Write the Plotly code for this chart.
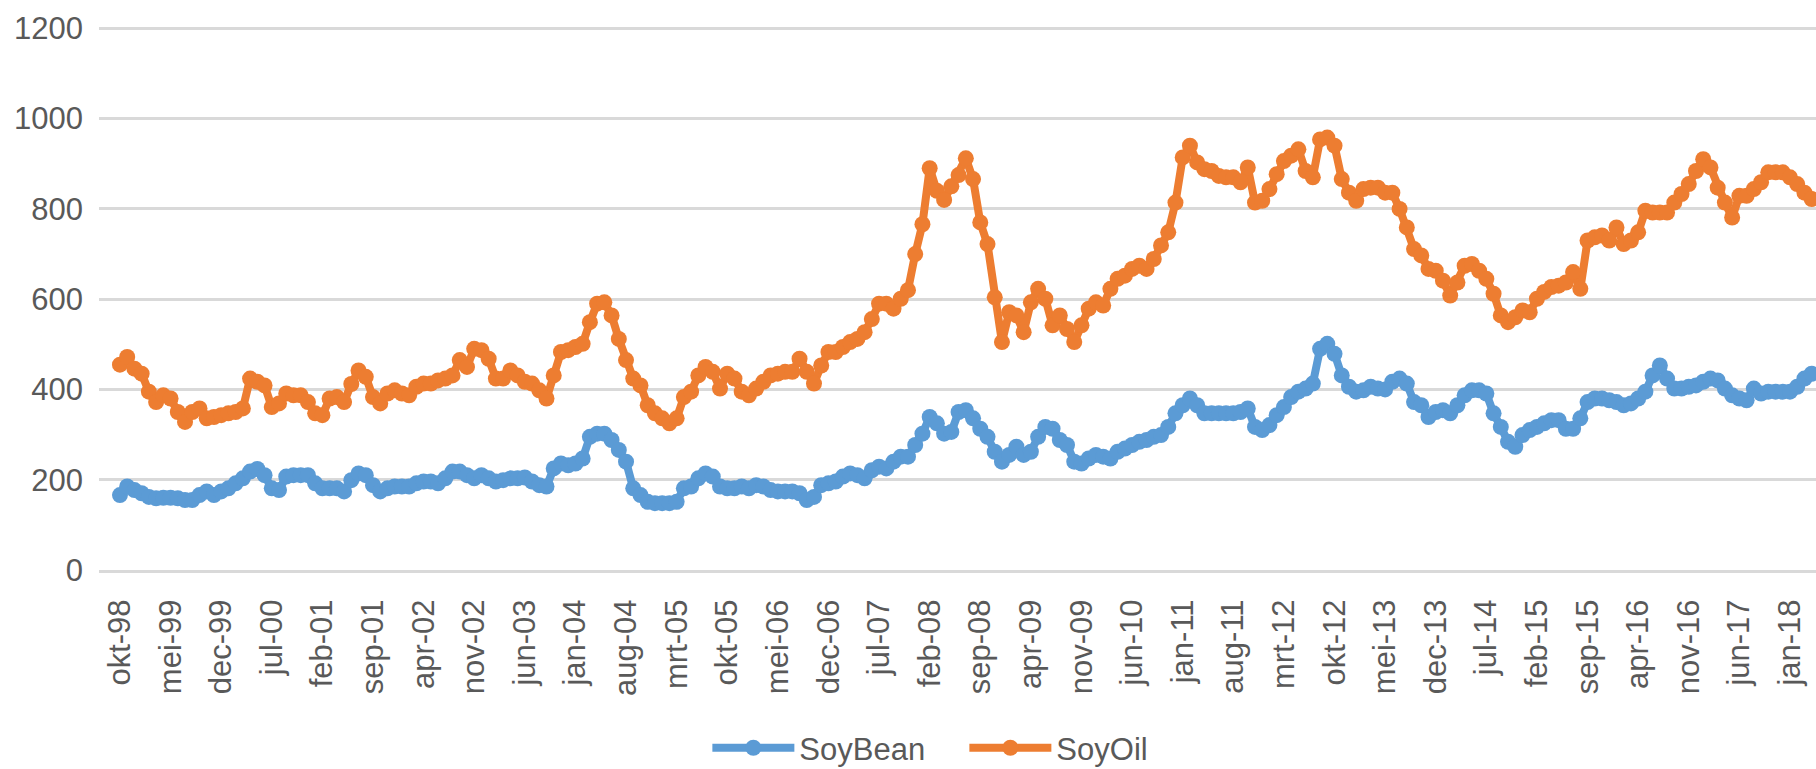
import plotly.graph_objects as go

# Month abbreviations (Dutch) used for the category labels
month_abbr = ["jan", "feb", "mrt", "apr", "mei", "jun", "jul", "aug", "sep", "okt", "nov", "dec"]
start_month_index = 9   # okt
start_year = 1998
n_months = 235          # okt-98 .. apr-18

categories = []
for i in range(n_months):
    mi = (start_month_index + i) % 12
    yr = start_year + (start_month_index + i) // 12
    categories.append(f"{month_abbr[mi]}-{yr % 100:02d}")

soybean = [
    166, 185, 177, 170, 162, 159, 160, 160, 159, 155, 155, 166, 174, 166, 174, 181, 192, 203, 218, 224,
    210, 181, 177, 207, 210, 210, 210, 192, 181, 181, 181, 174, 199, 214, 210, 188, 174, 181, 185, 185,
    185, 192, 196, 196, 192, 203, 218, 218, 210, 203, 210, 203, 196, 199, 203, 203, 205,
    196, 188, 185, 225, 236, 232, 236, 247, 295, 302, 302, 288, 266, 240, 181, 166, 151, 148, 148, 148,
    151, 181, 185, 203, 214, 207, 185, 181, 181, 185, 181, 188, 185, 177, 174, 174, 174, 170, 155, 162,
    188, 192, 196, 207, 214, 210, 203, 221, 229, 225, 240, 251, 251, 277, 302, 339, 325, 302, 306, 350,
    354, 336, 313, 295, 262, 240, 255, 273, 255, 262, 295, 317, 313, 288, 277, 240, 236, 247, 255, 251,
    247, 262, 269, 277, 284, 288, 295, 299, 317, 347, 365, 380, 365, 347, 347, 347, 347, 347, 350, 358,
    317, 310, 321, 343, 361, 383, 395, 402, 413, 490, 501, 479, 431, 406, 395, 398, 406, 402, 400,
    417, 424, 413, 372, 365, 339, 350, 354, 347, 365, 387, 398, 398, 391, 347, 317, 284, 273, 299, 310,
    317, 325, 332, 332, 313, 313, 336, 372, 380, 380, 376, 372, 365, 369, 380, 395, 431, 453, 424, 402,
    402, 406, 409, 417, 424, 420, 402, 387, 380, 376, 402, 391, 395, 395, 395, 395, 406, 424, 435,
]

soyoil = [
    455, 472, 446, 435, 395, 372, 387, 380, 350, 328, 350, 358, 336, 339, 343, 347, 350, 358, 424, 417,
    409, 361, 369, 391, 387, 387, 372, 347, 343, 380, 383, 372, 412, 442, 428, 383, 369, 391, 398, 391,
    387, 406, 413, 413, 420, 424, 431, 465, 450, 490, 487, 468, 424, 424, 442, 431, 417,
    413, 398, 380, 431, 483, 487, 494, 501, 549, 590, 593, 564, 512, 465, 424, 409, 365, 347, 336, 325,
    336, 383, 395, 431, 450, 439, 402, 435, 424, 395, 387, 402, 417, 431, 435, 439, 439, 468, 439, 413,
    453, 483, 483, 494, 505, 512, 527, 556, 590, 590, 579, 601, 620, 700, 766, 890, 840, 820, 850, 875,
    912, 866, 770, 722, 604, 505, 571, 564, 527, 593, 623, 601, 542, 564, 534, 505, 542, 579, 593, 586,
    623, 645, 652, 667, 674, 667, 689, 719, 748, 814, 914, 940, 903, 888, 884, 873, 870, 870, 859, 892,
    814, 818, 844, 877, 906, 918, 932, 884, 870, 954, 958, 940, 866, 836, 818, 844, 847, 847, 836,
    836, 800, 759, 711, 697, 667, 663, 641, 608, 637, 674, 678, 663, 645, 612, 564, 549, 560, 575, 571,
    601, 616, 627, 630, 637, 660, 623, 730, 737, 741, 730, 759, 722, 730, 748, 796, 792, 792, 792, 814,
    833, 855, 884, 910, 892, 847, 814, 781, 829, 829, 844, 859, 881, 881, 881, 870, 855, 836, 822,
]

tick_labels = categories[0:232:7]
y_ticks = [0, 200, 400, 600, 800, 1000, 1200]

series_names = ["SoyBean", "SoyOil"]
series_colors = ["#5B9BD5", "#ED7D31"]

fig = go.Figure()
for name, vals, col in zip(series_names, [soybean, soyoil], series_colors):
    fig.add_trace(go.Scatter(
        x=categories, y=vals, name=name, mode="lines+markers",
        line=dict(color=col, width=8),
        marker=dict(color=col, size=16, symbol="circle"),
    ))

font_family = "Liberation Sans, Arial, sans-serif"
tick_color = "#595959"

fig.update_layout(
    width=1816, height=769,
    margin=dict(l=99, r=0, t=27, b=199, autoexpand=False),
    paper_bgcolor="white", plot_bgcolor="white",
    showlegend=True,
    legend=dict(orientation="h", x=0.504, xanchor="center", y=-0.328, yanchor="middle",
                font=dict(family=font_family, size=31, color=tick_color),
                itemwidth=82, entrywidth=160, entrywidthmode="pixels",
                bgcolor="rgba(0,0,0,0)"),
    xaxis=dict(
        type="category", range=[-2.9, 234.6],
        tickmode="array", tickvals=tick_labels, ticktext=tick_labels,
        tickangle=-90, tickfont=dict(family=font_family, size=31, color=tick_color),
        showgrid=False, showline=True, linecolor="#D9D9D9", linewidth=3,
        ticks="", ticklabelstandoff=14, zeroline=False,
    ),
    yaxis=dict(
        range=[0, 1203], tickmode="array", tickvals=y_ticks,
        tickfont=dict(family=font_family, size=31, color=tick_color),
        showgrid=True, gridcolor="#D9D9D9", gridwidth=3,
        showline=False, zeroline=False, ticks="", ticklabelstandoff=15,
    ),
)

fig.write_html(
    "out.html",
    config={"displayModeBar": False},
    post_script="document.body.style.margin='0';document.body.style.overflow='hidden';",
)
